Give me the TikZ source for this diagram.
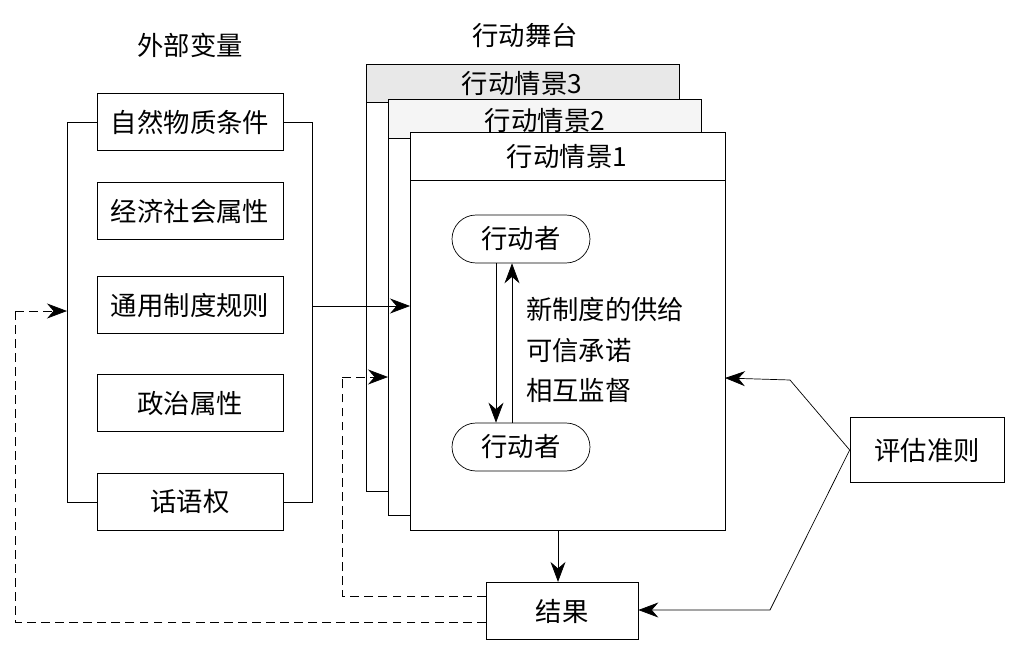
\documentclass[tikz,border=0pt]{standalone}
\usepackage{fontspec}
\newfontfamily\cjk{Noto Sans CJK SC}
\usetikzlibrary{arrows.meta}
\definecolor{hdrgray}{gray}{0.91}
\definecolor{hdrlight}{gray}{0.96}
\begin{document}
\begin{tikzpicture}[%
  x=0.02cm, y=-0.02cm,
  font=\cjk\fontsize{15}{18}\selectfont,
  var/.style={rectangle, draw, thin, minimum width=3.72cm, minimum height=1.15cm},
  actor/.style={rectangle, rounded corners=0.48cm, draw, thin, minimum width=2.76cm, minimum height=0.96cm},
  conn/.style={-{Stealth[length=4mm, width=3mm]}, thin},
  fb/.style={dash pattern=on 5pt off 3pt, thin},
  ]
  \useasboundingbox (0,0) rectangle (1014,652);
  {
    % titles
    \node (exttitle) at (190,45) {外部变量};
    \node (arenatitle) at (525,35) {行动舞台};
    % external variables
    \node[var] (nat) at (190,122) {自然物质条件};
    \node[var] (eco) at (190,211) {经济社会属性};
    \node[var] (rule) at (190,305) {通用制度规则};
    \node[var] (pol) at (190,403) {政治属性};
    \node[var] (voice) at (190,502) {话语权};
    \draw[thin] (nat.west) -- (67,122) -- (67,502) -- (voice.west);
    \draw[thin] (nat.east) -- (312,122) -- (312,502) -- (voice.east);
    \coordinate (brin) at (67,311);
    \coordinate (brout) at (312,306);
    % action situations
    \filldraw[thin, fill=hdrgray] (366,64) rectangle (679,102);
    \draw[thin] (366,102) -- (366,491) -- (388,491);
    \node (sit3) at (522,84) {行动情景3};
    \filldraw[thin, fill=hdrlight] (388,99) rectangle (701,138);
    \draw[thin] (388,138) -- (388,515) -- (410,515);
    \node (sit2) at (545,121) {行动情景2};
    \filldraw[thin, fill=white] (410,132) rectangle (725,530);
    \draw[thin] (410,180) -- (725,180);
    \node (sit1) at (567,157) {行动情景1};
    \coordinate (in1) at (410,306);
    \coordinate (in2) at (388,377);
    \coordinate (inr) at (725,378);
    \coordinate (out1) at (558,530);
    % actors
    \node[actor] (act1) at (521,239) {行动者};
    \node[actor] (act2) at (521,447) {行动者};
    \draw[conn] (act1.south -| 496,0) -- (act2.north -| 496,0);
    \draw[conn] (act2.north -| 512,0) -- (act1.south -| 512,0);
    \node[anchor=west, align=left] (inst) at (520,350) {新制度的供给\\[5pt]可信承诺\\[5pt]相互监督};
    % outcome and criteria
    \node[var, minimum width=3.04cm] (res) at (562,611) {结果};
    \node[var, minimum width=3.08cm, minimum height=1.3cm] (crit) at (927,450) {评估准则};
    \draw[conn] (brout) -- (in1);
    \draw[conn] (out1) -- (res.north -| out1);
    \draw[conn] (crit.west) -- (790,380) -- (inr);
    \draw[conn] (crit.west) -- (770,610) -- (res.east |- 0,610);
    \draw[fb] (res.west |- 0,596) -- (342,596) -- (342,377);
    \draw[conn, fb] (342,377) -- (in2);
    \draw[fb] (res.west |- 0,622) -- (15,622) -- (15,311);
    \draw[conn, fb] (15,311) -- (brin);
  }
\end{tikzpicture}
\end{document}
